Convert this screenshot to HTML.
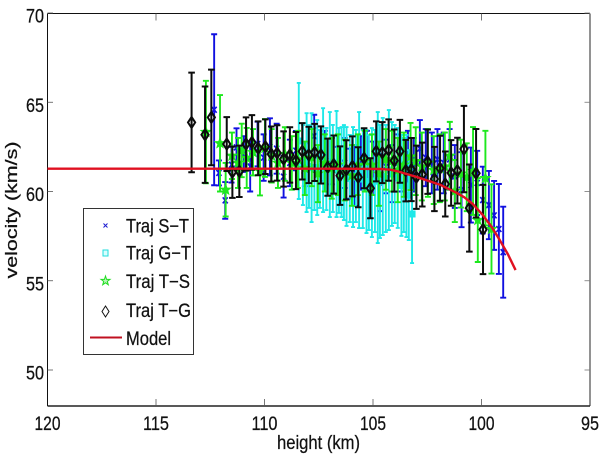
<!DOCTYPE html>
<html lang="en">
<head>
<meta charset="utf-8">
<title>Velocity vs height chart</title>
<style>
html,body{margin:0;padding:0;background:#fff;width:600px;height:457px;overflow:hidden}
svg{display:block}
text{font-family:"Liberation Sans",Arial,sans-serif;fill:#111;stroke:#111;stroke-width:0.25px}
</style>
</head>
<body>
<svg id="chart" xmlns="http://www.w3.org/2000/svg" width="600" height="457" viewBox="0 0 600 457">
  <rect x="0" y="0" width="600" height="457" fill="#fff"/>
  <g id="axes"></g>
  <g id="series"></g>
  <text x="318.5" y="449" text-anchor="middle" font-size="19" textLength="83" lengthAdjust="spacingAndGlyphs">height (km)</text>
  <text transform="translate(17,210) rotate(-90)" text-anchor="middle" font-size="17" textLength="137" lengthAdjust="spacingAndGlyphs">velocity (km/s)</text>
  <g>
    <rect x="83.5" y="208.5" width="110" height="146" fill="#fff" stroke="#333" stroke-width="1"/>
    <g>
      <path d="M103.5 223.5l4 4M107.5 223.5l-4 4" stroke="#1a1ad0" stroke-width="1" fill="none"/>
      <text x="126" y="232.5" font-size="19" textLength="63" lengthAdjust="spacingAndGlyphs">Traj S−T</text>
    </g>
    <g>
      <rect x="103" y="250" width="5" height="6" fill="#d8ffff" stroke="#22dddd" stroke-width="1"/>
      <text x="126" y="259.5" font-size="19" textLength="65" lengthAdjust="spacingAndGlyphs">Traj G−T</text>
    </g>
    <g>
      <polygon points="105.5,276 106.6,279.4 110,279.4 107.3,281.4 108.3,284.8 105.5,282.8 102.7,284.8 103.7,281.4 101,279.4 104.4,279.4" fill="#b8f5b8" stroke="#22dd22" stroke-width="1"/>
      <text x="126" y="288" font-size="19" textLength="64" lengthAdjust="spacingAndGlyphs">Traj T−S</text>
    </g>
    <g>
      <polygon points="105.5,306 109,311.5 105.5,317 102,311.5" fill="none" stroke="#111" stroke-width="1"/>
      <text x="126" y="317" font-size="19" textLength="65" lengthAdjust="spacingAndGlyphs">Traj T−G</text>
    </g>
    <g>
      <line x1="90" y1="337.5" x2="122" y2="337.5" stroke="#c01020" stroke-width="2"/>
      <text x="126" y="345" font-size="19" textLength="45" lengthAdjust="spacingAndGlyphs">Model</text>
    </g>
  </g>
</svg>
<script>
const xTickLabels = [120, 115, 110, 105, 100, 95];
const yTickLabels = [50, 55, 60, 65, 70];

const blueHeights = [112.32,112.1,111.81,111.52,111.29,110.95,110.66,110.32,110.04,109.75,109.44,109.12,108.83,108.55,108.14,107.71,107.22,106.9,106.62,106.3,106.07,105.84,105.56,105.28,105.01,104.68,104.41,104.13,103.86,103.58,103.39,103.12,102.84,102.57,102.29,102.03,101.74,101.47,101.23,100.92,100.49,100.2,99.94,99.66,99.42,99.2,99.0];
const blueValues = [64.58,61.04,59.5,61.5,62.47,62.1,61.4,62.66,61.9,62.5,62.4,60.83,61.6,62.29,61.5,63.1,62,61.7,61.2,61.6,61,60.9,61.6,61.9,61.3,60.5,61.4,61,61.6,61.5,61.8,61.5,62.4,61.9,61.6,61.8,61.6,61.8,60.84,60.1,60.36,60.48,59.52,59.24,58.66,57.9,56.6];
const blueErrors = [4.23,0.7,1.03,1,1.07,1,1.4,1.25,1.3,1.6,1.4,1.17,1.3,1.1,1.2,1.2,1.4,1.3,1.3,1.4,1.4,1.7,1.5,1.5,1.5,1.6,1.5,1.6,1.6,1.5,1.6,1.5,1.6,1.6,1.7,1.7,1.7,1.7,1.76,2.1,2.1,1.8,1.87,1.91,1.93,2.52,2.55];

const cyanHeights = [108.42,108.23,108.06,107.95,107.83,107.7,107.57,107.45,107.3,107.15,106.99,106.85,106.68,106.57,106.45,106.34,106.22,106.07,105.92,105.79,105.64,105.47,105.3,105.19,105.05,104.91,104.78,104.68,104.55,104.41,104.27,104.13,104,103.86,103.69,103.58,103.46,103.35,103.2];
const cyanValues = [62.83,61.48,61.62,61.4,61.34,61.26,61.34,61.26,61.76,61.26,61.51,61.29,61.54,61.18,61.09,61.06,60.84,60.73,60.81,60.87,61.2,60.7,60.56,60.5,60.5,60.59,60.78,60.56,60.84,60.73,61.2,60.98,60.98,60.76,60.34,60.36,60.31,59.8,58.74];
const cyanErrors = [3.25,2.24,2.77,2.32,3.05,2.3,2.66,2.18,2.91,2.3,2.94,2.44,2.97,2.38,2.52,2.66,2.77,2.44,2.8,2.58,3.25,2.75,2.89,2.66,3.05,2.86,3.67,3.17,3.28,3,3.36,2.91,2.75,2.8,2.83,2.63,2.86,2.52,2.75];

const greenHeights = [112.7,112.05,111.79,111.5,111.22,111.05,110.82,110.53,110.21,109.98,109.67,109.38,109.06,108.74,108.46,108.14,107.82,107.54,107.22,106.9,106.62,106.3,105.97,105.7,105.38,105.05,104.73,104.41,104.13,103.86,103.58,103.27,103.03,102.75,102.47,102.2,101.92,101.69,101.46,101.23,100.95,100.68,100.39,100.17,99.82,99.54];
const greenValues = [63.33,62.7,60.1,62,61.6,62.3,61.88,62.2,61.15,62.44,62,61.6,62.1,61.6,61.8,61.3,61.9,61,61.6,61.3,61.5,61.2,60.9,61.5,61.7,61.5,61,61.8,61.7,61.2,61.5,61.96,61.7,61.4,61.6,61.2,61.3,61.4,62,60.03,61,60.8,61.15,58.4,60.75,57.9];
const greenErrors = [2.87,2.7,1.5,1.3,1.4,1.5,1.68,1.3,1.37,1.62,1.5,1.4,1.5,1.5,1.6,1.5,1.6,1.6,1.6,1.7,1.7,1.7,1.7,1.7,1.7,1.7,1.8,1.7,1.7,1.8,1.8,1.88,1.9,1.9,1.9,1.9,1.9,1.9,1.9,1.74,1.9,1.9,2.46,2.35,2.65,2.5];

const blackHeights = [113.36,112.74,112.45,111.74,111.48,111.16,110.85,110.58,110.29,109.96,109.69,109.42,109.12,108.83,108.55,108.26,107.96,107.69,107.4,107.09,106.81,106.52,106.23,105.95,105.68,105.41,105.12,104.85,104.57,104.28,104.02,103.76,103.49,103.23,103,102.73,102.48,102.17,101.91,101.67,101.4,101.11,100.81,100.56,100.25,99.93];
const blackValues = [63.87,63.18,64.15,62.66,61.08,61.13,62.66,62.75,62.42,62.51,62.1,62.16,61.82,62.05,61.73,62.25,62.05,62.19,62.05,61.36,61.51,60.89,61.21,61.41,60.8,61.86,60.18,62.25,62.18,62.32,61.73,62.25,61.17,61.23,60.8,60.95,61.67,60.7,61.3,60.42,61.04,61.17,62.38,59.07,61.02,57.87];
const blackErrors = [2.79,2.7,2.68,1.51,1.44,1.44,1.49,1.53,1.51,1.53,1.54,1.55,1.55,1.55,1.6,1.58,1.58,1.6,1.6,1.6,1.63,1.64,1.66,1.68,1.68,1.68,1.68,1.68,1.71,1.72,1.74,1.76,1.72,1.77,1.77,1.79,1.8,1.8,1.82,1.82,1.84,1.84,2.42,2.44,2.48,2.5];

const modelHeights = [120,110,106.5,104.6,104.2,103.9,103.45,103,102.68,101.91,101.14,100.8,100.4,99.94,99.53,99.16,98.79,98.43];
const modelValues = [61.28,61.28,61.28,61.26,61.22,61.14,60.98,60.82,60.69,60.38,59.92,59.68,59.3,58.68,58.01,57.28,56.5,55.6];

const SVGNS = 'http://www.w3.org/2000/svg';
function xScale(h) { return 47.5 + (120 - h) * 21.7; }
function yScale(v) { return 370 - (v - 50) * 17.85; }

function make(tag, attrs, parent) {
  const el = document.createElementNS(SVGNS, tag);
  for (const k in attrs) el.setAttribute(k, attrs[k]);
  parent.appendChild(el);
  return el;
}

const axes = document.getElementById('axes');
const seriesLayer = document.getElementById('series');

const topLine = make('line', {x1: 47.5, y1: 13.5, x2: 590, y2: 13.5, stroke: '#111', 'stroke-width': 1}, axes);


const leftLine = make('line', {x1: 47.5, y1: 13.5, x2: 47.5, y2: 406, stroke: '#111', 'stroke-width': 1}, axes);


const rightLine = make('line', {x1: 590, y1: 13.5, x2: 590, y2: 406, stroke: '#777', 'stroke-width': 1.6}, axes);


const baseLine = make('line', {x1: 47.5, y1: 406, x2: 590, y2: 406, stroke: '#222', 'stroke-width': 1.4}, axes);



xTickLabels.forEach(function (t) {
  const px = xScale(t);
  if (t !== 120 && t !== 95) {
    const tick = make('line', {x1: px, y1: 406, x2: px, y2: 399, stroke: '#555', 'stroke-width': 0.8}, axes);
    
    
    const topTick = make('line', {x1: px, y1: 13.5, x2: px, y2: 20.5, stroke: '#555', 'stroke-width': 0.8}, axes);
    
    
  }
  const width = t >= 100 ? 26 : 18;
  const label = make('text', {x: px, y: 430, 'text-anchor': 'middle', 'font-size': 19.5, textLength: width, lengthAdjust: 'spacingAndGlyphs'}, axes);
  label.textContent = String(t);
  
  
});

yTickLabels.forEach(function (t) {
  const py = yScale(t);
  const tick = make('line', {x1: 47.5, y1: py, x2: 53, y2: py, stroke: '#555', 'stroke-width': 0.8}, axes);
  
  
  const rightTick = make('line', {x1: 590, y1: py, x2: 584.5, y2: py, stroke: '#777', 'stroke-width': 0.8}, axes);
  
  
  const label = make('text', {x: 44, y: py + 9.5, 'text-anchor': 'end', 'font-size': 19.5, textLength: 18, lengthAdjust: 'spacingAndGlyphs'}, axes);
  label.textContent = String(t);
  
  
});

function drawMarker(kind, g, cx, cy, color) {
  if (kind === 'x') {
    const m = make('path', {d: 'M' + (cx - 2.5) + ' ' + (cy - 3) + 'l5 6M' + (cx + 2.5) + ' ' + (cy - 3) + 'l-5 6', stroke: color, 'stroke-width': 1.6, fill: 'none'}, g);
    
    
  } else if (kind === 'square') {
    const m = make('rect', {x: cx - 3, y: cy - 3, width: 6, height: 6, fill: color, stroke: color, 'stroke-width': 1}, g);
    
    
  } else if (kind === 'star') {
    const pts = [];
    for (let i = 0; i < 10; i++) {
      const r = i % 2 ? 2.2 : 5.2;
      const a = -Math.PI / 2 + i * Math.PI / 5;
      pts.push((cx + r * Math.cos(a)).toFixed(2) + ',' + (cy + r * Math.sin(a)).toFixed(2));
    }
    const m = make('polygon', {points: pts.join(' '), fill: color, stroke: color, 'stroke-width': 1}, g);
    
    
  } else {
    const m = make('polygon', {points: cx + ',' + (cy - 5.5) + ' ' + (cx + 3.6) + ',' + cy + ' ' + cx + ',' + (cy + 5.5) + ' ' + (cx - 3.6) + ',' + cy, fill: 'none', stroke: color, 'stroke-width': 2}, g);
    
    
  }
}

function drawSeries(name, heights, values, errors, color, kind, barWidth, capHalf) {
  const g = make('g', {}, seriesLayer);
  
  
  heights.forEach(function (h, i) {
    const px = xScale(h);
    const top = yScale(values[i] + errors[i]);
    const bot = yScale(values[i] - errors[i]);
    const bar = make('path', {
      d: 'M' + px + ' ' + top + 'V' + bot +
         'M' + (px - capHalf) + ' ' + top + 'H' + (px + capHalf) +
         'M' + (px - capHalf) + ' ' + bot + 'H' + (px + capHalf),
      stroke: color, 'stroke-width': barWidth, fill: 'none'
    }, g);
    
    
    drawMarker(kind, g, px, yScale(values[i]), color);
  });
}

drawSeries('series-traj-s-t', blueHeights, blueValues, blueErrors, '#1010e0', 'x', 1.9, 3);
drawSeries('series-traj-g-t', cyanHeights, cyanValues, cyanErrors, '#1fe8e8', 'square', 1.9, 2);
drawSeries('series-traj-t-s', greenHeights, greenValues, greenErrors, '#1ee81e', 'star', 1.9, 3);
drawSeries('series-traj-t-g', blackHeights, blackValues, blackErrors, '#0c0c0c', 'diamond', 2, 3.3);

const modelPoints = modelHeights.map(function (h, i) {
  return xScale(h).toFixed(2) + ',' + yScale(modelValues[i]).toFixed(2);
}).join(' ');
const modelLine = make('polyline', {points: modelPoints, fill: 'none', stroke: '#e01020', 'stroke-width': 2.4, 'stroke-linejoin': 'round'}, seriesLayer);


</script>
</body>
</html>
